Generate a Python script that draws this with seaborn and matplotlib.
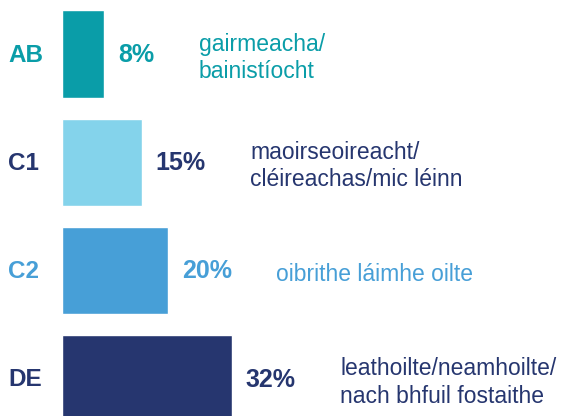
import pandas as pd
import matplotlib
matplotlib.use('Agg')
import matplotlib.pyplot as plt
import seaborn as sns

# data
groups = ['AB', 'C1', 'C2', 'DE']
shares = [8, 15, 20, 32]
descriptions = ['gairmeacha/\nbainistíocht',
                'maoirseoireacht/\ncléireachas/mic léinn',
                'oibrithe láimhe oilte',
                'leathoilte/neamhoilte/\nnach bhfuil fostaithe']
bar_colors = ['#0A9DA8', '#84D3EB', '#479FD7', '#26366F']
text_colors = ['#0A9DA8', '#26366F', '#479FD7', '#26366F']

df = pd.DataFrame({'group': groups, 'share': shares})

sns.set_style('white')
plt.rcParams['font.family'] = ['Liberation Sans', 'DejaVu Sans']

fig = plt.figure(figsize=(5.68, 4.16), dpi=100)
ax = fig.add_axes([0, 0, 1, 1])

sns.barplot(data=df, x='share', y='group', hue='group', palette=bar_colors,
            orient='h', width=0.806, saturation=1, legend=False, ax=ax)

k = 5.3  # pixels per percent
ax.set_xlim(-62 / k, 506 / k)
ax.set_ylim(3.347, -0.5)
ax.axis('off')

for i, (g, v, d, c) in enumerate(zip(groups, shares, descriptions, text_colors)):
    ax.text(-54 / k, i + 0.01, g, color=c, fontsize=17.5, fontweight='bold', va='center', ha='left')
    pct = ax.text(v + 14 / k, i + 0.01, f'{v}%', color=c, fontsize=18, fontweight='bold',
                  va='center', ha='left')
    ax.annotate(d, xy=(1, 0.5), xycoords=pct, xytext=(32, -2), textcoords='offset points',
                color=c, fontsize=16.5, va='center', ha='left', linespacing=1.25)

fig.savefig('out.png', dpi=100)
